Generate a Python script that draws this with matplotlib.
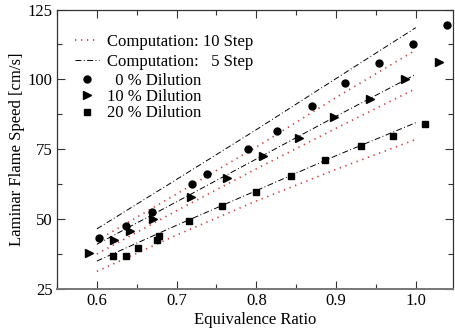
import numpy as np
import matplotlib
matplotlib.use("Agg")
import matplotlib.pyplot as plt
from matplotlib.ticker import MultipleLocator

plt.rcParams["font.family"] = ["Liberation Serif", "DejaVu Serif"]
plt.rcParams["mathtext.fontset"] = "stix"

# measured points
phi_0 = [0.603, 0.637, 0.669, 0.719, 0.738, 0.790, 0.826, 0.870, 0.911, 0.954, 0.997, 1.039]
sl_0 = [43.1, 47.6, 52.6, 62.5, 66.1, 75.0, 81.4, 90.5, 98.7, 105.8, 112.5, 119.3]

phi_10 = [0.590, 0.622, 0.641, 0.671, 0.718, 0.763, 0.808, 0.853, 0.898, 0.942, 0.986, 1.029]
sl_10 = [38.0, 42.5, 45.8, 50.0, 58.0, 64.8, 72.5, 79.0, 86.5, 92.9, 100.0, 106.2]

phi_20 = [0.620, 0.636, 0.651, 0.676, 0.678, 0.716, 0.757, 0.800, 0.843, 0.886, 0.931, 0.971, 1.011]
sl_20 = [36.8, 36.9, 39.8, 42.7, 44.0, 49.4, 54.8, 59.8, 65.4, 71.1, 76.1, 79.9, 83.9]

# computations
phi_calc = [0.6, 0.7, 0.8, 0.9, 1.0]
step10_0 = [42.3, 59.0, 75.8, 93.5, 110.5]
step10_10 = [37.5, 53.0, 68.0, 82.5, 96.7]
step10_20 = [31.3, 44.3, 56.5, 67.8, 78.5]
step5_0 = [46.5, 64.2, 82.0, 100.3, 118.5]
step5_10 = [41.0, 56.2, 71.5, 86.8, 101.8]
step5_20 = [35.0, 47.8, 60.2, 72.7, 84.5]

fig = plt.figure(figsize=(4.55, 3.35), dpi=100)
ax = fig.add_axes([57 / 455, 46 / 335, 395.7 / 455, 279.5 / 335])

red_dots = dict(color="#d23c3c", lw=1.2, ls=(0, (0.8, 2.8)))
dashdot = dict(color="black", lw=0.7, ls=(0, (6, 2.5, 1, 2.5)))

l10 = None
for s in (step10_0, step10_10, step10_20):
    (l10,) = ax.plot(phi_calc, s, **red_dots)
l5 = None
for s in (step5_0, step5_10, step5_20):
    (l5,) = ax.plot(phi_calc, s, **dashdot)

(m0,) = ax.plot(phi_0, sl_0, "o", color="black", ms=5, ls="none")
(m10,) = ax.plot(phi_10, sl_10, ">", color="black", ms=5.2, ls="none")
(m20,) = ax.plot(phi_20, sl_20, "s", color="black", ms=5, ls="none")

ax.set_xlim(0.55, 1.0463)
ax.set_ylim(25, 125)
ax.xaxis.set_major_locator(MultipleLocator(0.1))
ax.xaxis.set_minor_locator(MultipleLocator(0.05))
ax.yaxis.set_major_locator(MultipleLocator(25))
ax.yaxis.set_minor_locator(MultipleLocator(12.5))
ax.set_xticks([0.6, 0.7, 0.8, 0.9, 1.0])
ax.set_xticklabels(["0.6", "0.7", "0.8", "0.9", "1.0"])
ax.tick_params(which="both", direction="in", top=True, right=True,
               labelsize=12, color="#333333", width=0.8)
ax.tick_params(which="major", length=5.8, pad=3)
ax.tick_params(which="minor", length=3.4)
for sp in ax.spines.values():
    sp.set_color("#333333")
    sp.set_linewidth(0.9)
ax.spines["bottom"].set_color("#777777")
ax.spines["bottom"].set_linewidth(1.4)

ax.set_xlabel("Equivalence Ratio", fontsize=12, labelpad=2)
ax.set_ylabel("Laminar Flame Speed [cm/s]", fontsize=12, labelpad=2)

leg1 = ax.legend([l10, l5], ["Computation: 10 Step", "Computation:   5 Step"],
                 loc="upper left", bbox_to_anchor=(0.045, 0.914), frameon=False,
                 fontsize=12, handlelength=1.45, handletextpad=0.5,
                 labelspacing=0.28, borderpad=0, borderaxespad=0)
ax.add_artist(leg1)
ax.legend([m0, m10, m20], ["  0 % Dilution", "10 % Dilution", "20 % Dilution"],
          loc="upper left", bbox_to_anchor=(0.045, 0.774), frameon=False,
          fontsize=12, handlelength=1.45, handletextpad=0.5,
          labelspacing=0.02, borderpad=0, borderaxespad=0)

fig.savefig("out.png", dpi=100)
